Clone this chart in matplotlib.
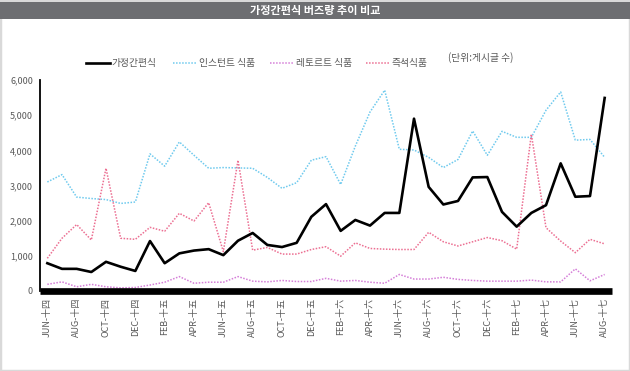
import numpy as np
import matplotlib
matplotlib.use('Agg')
import matplotlib.pyplot as plt
from matplotlib.patches import Rectangle
from matplotlib.lines import Line2D

plt.rcParams['font.family'] = ['Noto Sans CJK KR', 'DejaVu Sans']

# ---Data (monthly, JUN-2014 .. AUG-2017)
months = ['JUN', 'JUL', 'AUG', 'SEP', 'OCT', 'NOV', 'DEC', 'JAN', 'FEB', 'MAR', 'APR', 'MAY']
years = ['十四', '十五', '十六', '十七']
categories = []
m, y = 0, 0
for _ in range(39):
    categories.append(f'{months[m]}-{years[y]}')
    m += 1
    if m == 12:
        m = 0
    if months[m] == 'JAN':
        y += 1

hmr = [790, 630, 630, 540, 830, 690, 570, 1420, 790, 1070, 1150, 1190, 1020,
       1430, 1650, 1310, 1250, 1370, 2110, 2470, 1710, 2020, 1860, 2220, 2220,
       4900, 2960, 2460, 2560, 3230, 3240, 2250, 1830, 2220, 2440, 3630, 2680,
       2700, 5490]
instant = [3100, 3310, 2670, 2630, 2600, 2490, 2530, 3900, 3550, 4240, 3860,
           3490, 3510, 3500, 3490, 3230, 2920, 3080, 3720, 3820, 3030, 4120,
           5090, 5710, 4030, 4010, 3800, 3510, 3740, 4550, 3860, 4540, 4370,
           4370, 5140, 5660, 4290, 4310, 3800]
retort = [190, 260, 120, 190, 120, 90, 100, 170, 250, 410, 220, 250, 250, 410,
          280, 260, 300, 270, 270, 360, 280, 300, 250, 220, 470, 340, 340, 390,
          330, 300, 280, 280, 280, 310, 260, 260, 630, 290, 470]
instant_meal = [930, 1500, 1890, 1450, 3490, 1500, 1470, 1810, 1700, 2210,
                1990, 2510, 1120, 3720, 1160, 1240, 1050, 1050, 1180, 1260,
                990, 1370, 1210, 1190, 1180, 1180, 1670, 1400, 1280, 1400,
                1520, 1430, 1190, 4460, 1800, 1420, 1090, 1470, 1340]

series_names = ['가정간편식', '인스턴트 식품', '레토르트 식품', '즉석식품']
colors = ['#000000', '#6fcaee', '#d57fd8', '#ec6f92']
tick_color = '#595959'

fig = plt.figure(figsize=(6.3, 3.71), dpi=100)
W, H = 630, 371

# ---Frame and title bar
fig.add_artist(Rectangle((0, 0), 1, 1, transform=fig.transFigure,
                         fill=False, edgecolor='#d9d9d9', linewidth=2.5))
fig.add_artist(Rectangle((0, 1 - 19 / H), 1, 17 / H, transform=fig.transFigure,
                         facecolor='#6d6e71', edgecolor='none'))
fig.text(0.5, 1 - 10.5 / H, '가정간편식 버즈량 추이 비교', color='white',
         fontsize=8, fontweight='bold', ha='center', va='center')

# ---Plot area
ax = fig.add_axes([40 / W, 1 - 291 / H, 572 / W, 211 / H])
x = np.arange(len(categories))
styles = [dict(lw=1.9, ls='-'), dict(lw=1.1, ls=(0, (1, 1))),
          dict(lw=1.1, ls=(0, (1, 1))), dict(lw=1.1, ls=(0, (1, 1)))]
data = [hmr, instant, retort, instant_meal]
order = [1, 2, 3, 0]
for i in order:
    ax.plot(x, data[i], color=colors[i], zorder=3 if i == 0 else 2, **styles[i])

ax.set_xlim(-0.5, len(categories) - 0.5)
ax.set_ylim(0, 6000)
ax.set_yticks(np.arange(0, 6001, 1000))
ax.set_yticklabels([f'{v:,}' for v in range(0, 6001, 1000)])
ax.set_xticks(x[::2])
ax.set_xticklabels(categories[::2], rotation=90)
ax.tick_params(axis='both', length=0, labelsize=6.5, colors=tick_color)
ax.tick_params(axis='y', pad=5)
ax.tick_params(axis='x', pad=5)
for s in ['top', 'right']:
    ax.spines[s].set_visible(False)
ax.spines['left'].set_linewidth(1.3)
ax.spines['bottom'].set_linewidth(4.8)
ax.spines['bottom'].set_capstyle('butt')

# ---Legend (drawn by hand to match layout)
leg_y = 1 - 63 / H
leg_items = [(86, 111), (173, 199), (270, 296), (366, 392)]
for i, (lx, tx) in enumerate(leg_items):
    fig.add_artist(Line2D([lx / W, (lx + 24) / W], [leg_y, leg_y],
                          color=colors[i], transform=fig.transFigure, **styles[i]))
    fig.text(tx / W, leg_y, series_names[i], fontsize=7, color=tick_color,
             ha='left', va='center')
fig.text(513 / W, 1 - 58 / H, '(단위:게시글 수)', fontsize=7,
         color=tick_color, ha='right', va='center')

fig.savefig('out.png', dpi=100)
